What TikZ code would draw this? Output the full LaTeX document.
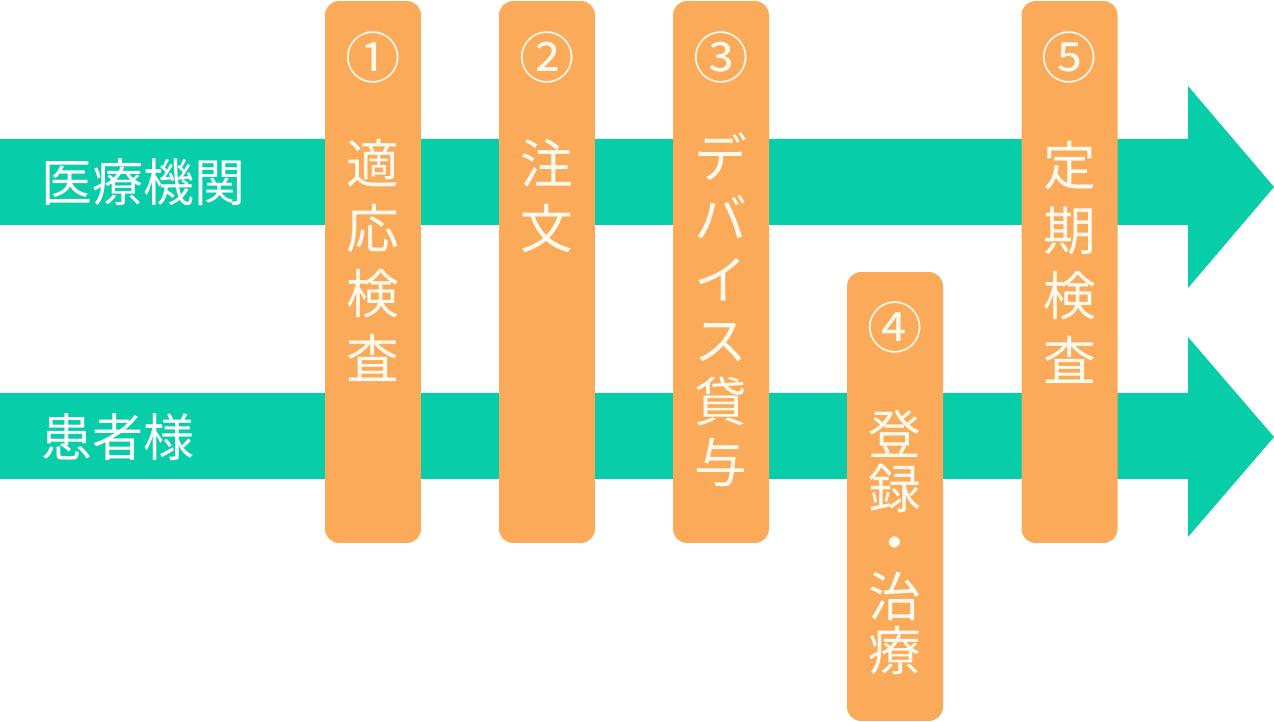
\documentclass[tikz,border=0pt]{standalone}
\usepackage{fontspec}
\newfontfamily\cjk{Noto Sans CJK JP}
\definecolor{flowteal}{HTML}{07CDA8}
\definecolor{stepfill}{HTML}{FBAA59}
\definecolor{stepink}{HTML}{FFF9EE}
\begin{document}
\begin{tikzpicture}[x=0.02cm, y=-0.02cm,
    stepbox/.style={fill=stepfill, rounded corners=0.28cm, minimum width=1.92cm, inner sep=0pt},
    stepnum/.style={text=stepink, font=\cjk\fontsize{31.5}{36}\selectfont, inner sep=0pt},
    steptext/.style={text=stepink, font=\cjk\fontsize{30}{#1}\selectfont, align=center, inner sep=0pt},
    rowlabel/.style={text=white, font=\cjk\fontsize{29}{34}\selectfont, anchor=west, inner sep=0pt}]
    \useasboundingbox (0,0) rectangle (1274,722);
    % flow arrows
    \fill[flowteal] (0,139) -- (1188,139) -- (1188,86) -- (1274,187) -- (1188,288) -- (1188,225) -- (0,225) -- cycle;
    \fill[flowteal] (0,393) -- (1188,393) -- (1188,337) -- (1274,437) -- (1188,537) -- (1188,479) -- (0,479) -- cycle;
    \node[rowlabel] (clinic) at (41,182) {医療機関};
    \node[rowlabel] (patient) at (41,437) {患者様};
    % steps
    \node[stepbox, minimum height=10.84cm] (box1) at (373,272) {};
    \node[stepbox, minimum height=10.84cm] (box2) at (547,272) {};
    \node[stepbox, minimum height=10.84cm] (box3) at (721,272) {};
    \node[stepbox, minimum height=8.98cm] (box4) at (895,496.5) {};
    \node[stepbox, minimum height=10.84cm] (box5) at (1069.5,272) {};
    \node[stepnum] (num1) at (373,57) {①};
    \node[stepnum] (num2) at (547,57) {②};
    \node[stepnum] (num3) at (721,57) {③};
    \node[stepnum] (num4) at (895,327) {④};
    \node[stepnum] (num5) at (1069.5,57) {⑤};
    \node[steptext=37] (text1) at (373,260.5) {適\\応\\検\\査};
    \node[steptext=37] (text2) at (547,195.5) {注\\文};
    \node[steptext=34.7] (text3) at (721,310) {デ\\バ\\イ\\ス\\貸\\与};
    \node[steptext=30.7] (text4) at (895,542.5) {登\\録\\・\\治\\療};
    \node[steptext=37] (text5) at (1069.5,262) {定\\期\\検\\査};
\end{tikzpicture}
\end{document}
